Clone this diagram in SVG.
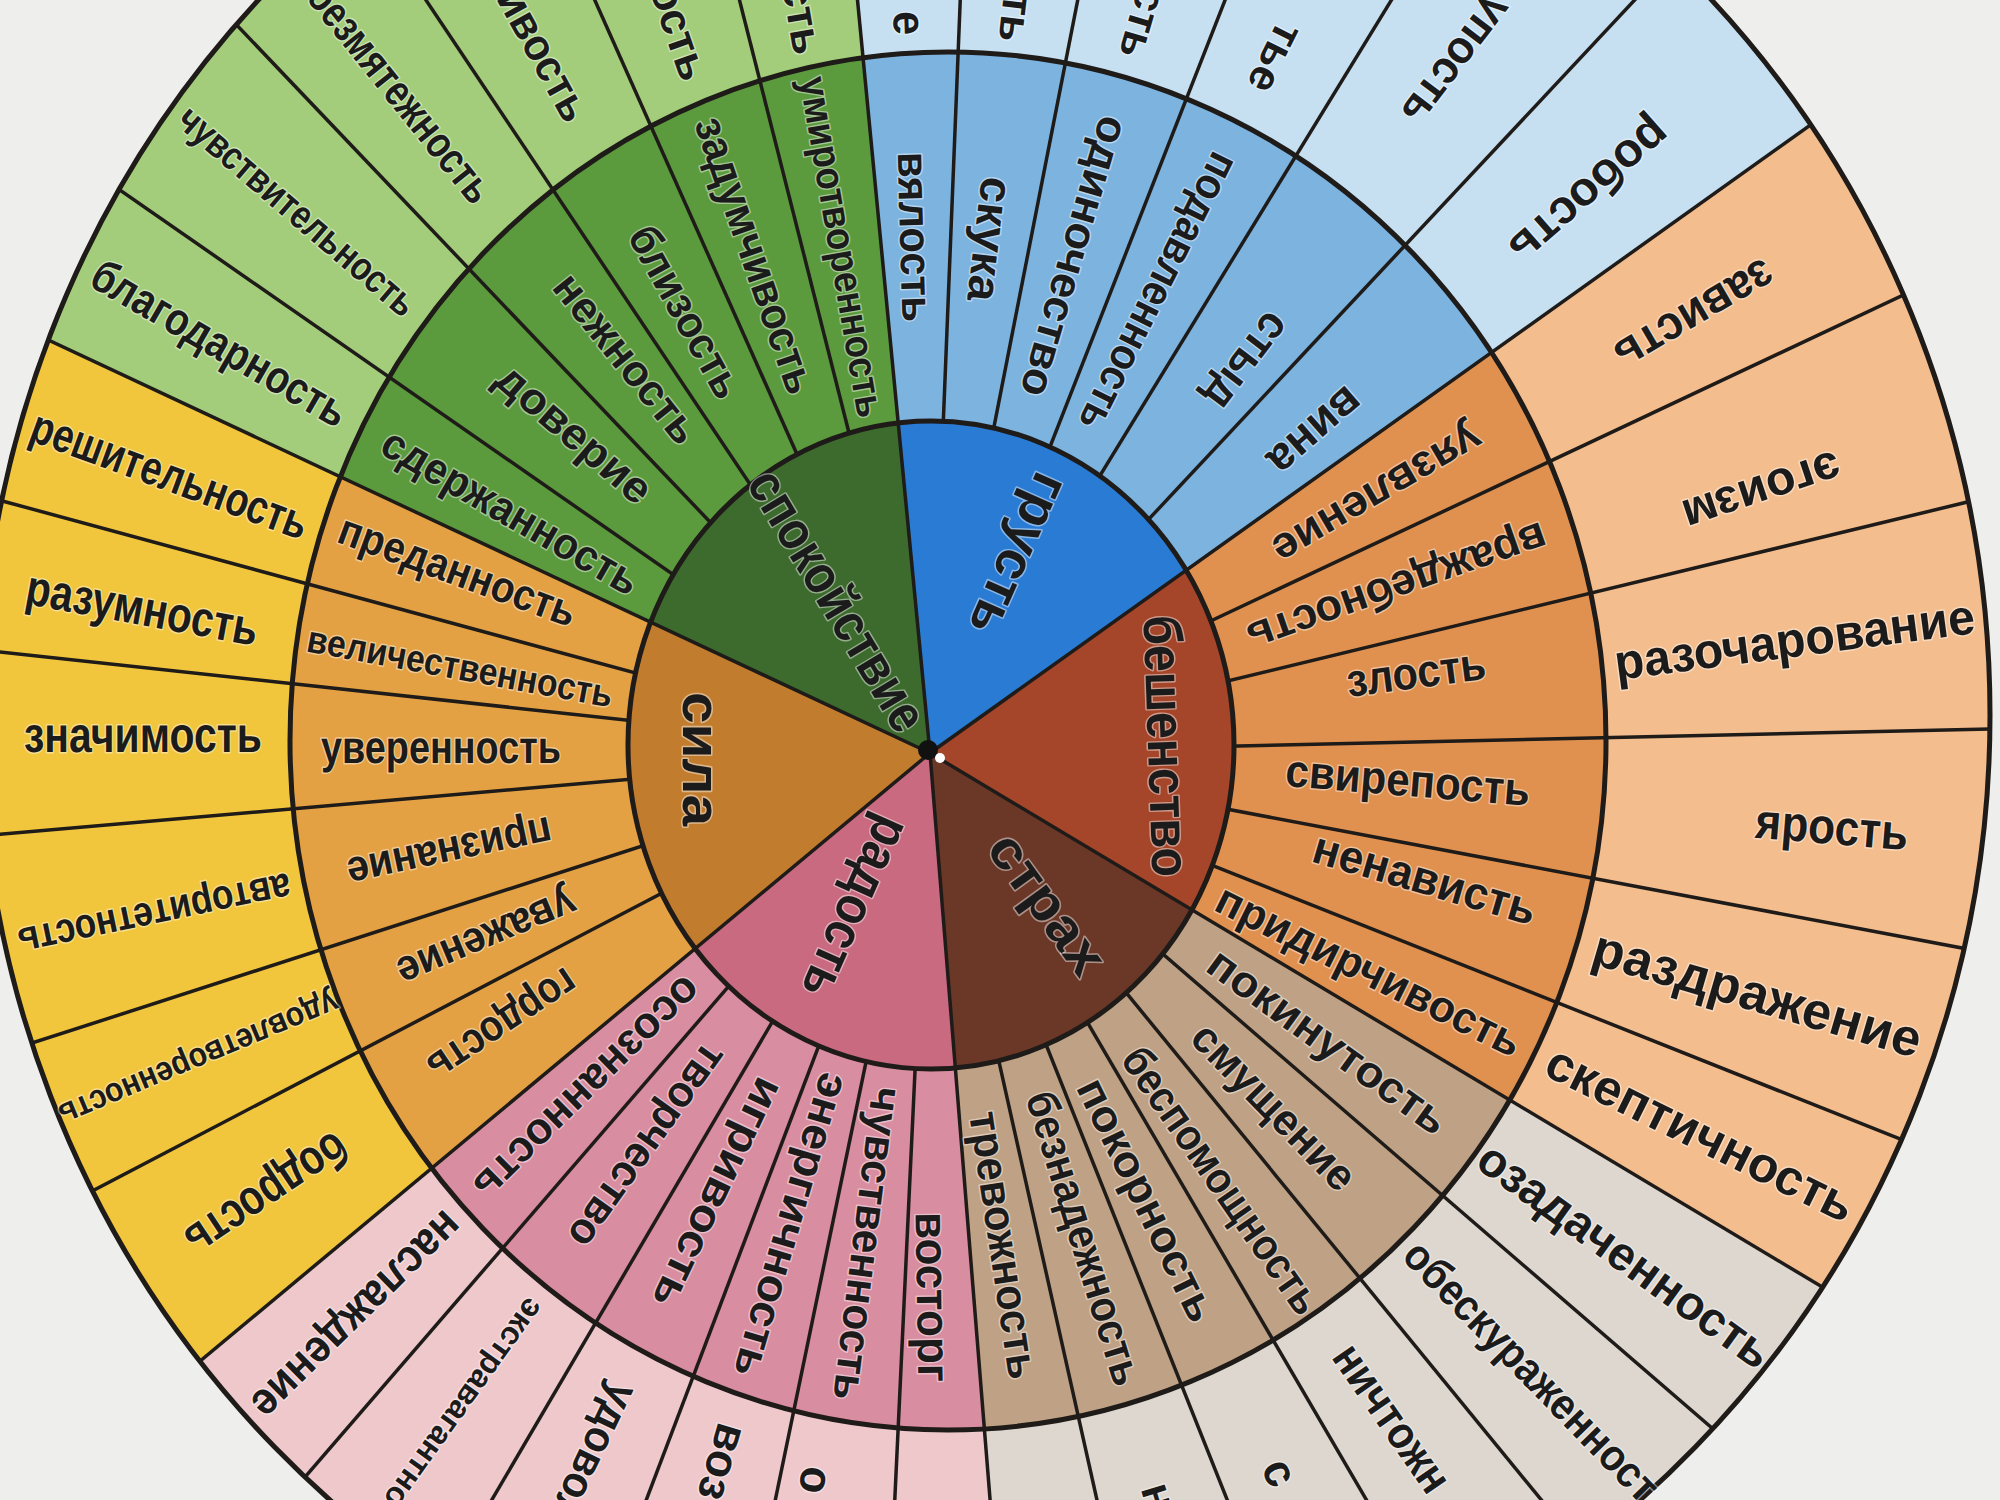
<svg xmlns="http://www.w3.org/2000/svg" width="2000" height="1500" viewBox="0 0 2000 1500">
<style>
.t{font-family:"Liberation Sans",Arial,sans-serif;font-weight:bold;fill:#1b1b1b;text-anchor:middle;dominant-baseline:central;stroke:#ffffff;stroke-opacity:.45;stroke-width:3px;paint-order:stroke;stroke-linejoin:round}
.s{text-anchor:start}
.e{text-anchor:end}
.ln{stroke:#1e1b19;stroke-width:3.5}
.ring{fill:none;stroke:#1e1b19;stroke-width:5}
</style>
<defs>
<clipPath id="cE3"><ellipse cx="985" cy="715" rx="1005" ry="1035"/></clipPath>
<clipPath id="cE2"><ellipse cx="948" cy="741" rx="658" ry="689"/></clipPath>
<clipPath id="cE1"><ellipse cx="931" cy="745" rx="303" ry="324"/></clipPath>
<clipPath id="cRing"><path clip-rule="evenodd" d="M-20 715A1005 1035 0 1 0 1990 715A1005 1035 0 1 0 -20 715Z M628 745A303 324 0 1 0 1234 745A303 324 0 1 0 628 745Z"/></clipPath>
</defs>
<rect width="2000" height="1500" fill="#eeeeec"/>

<g id="sector-spokoystvie">
<path clip-path="url(#cE3)" fill="#a3cd7a" d="M930 753L-881.2 -95.4L-222.8 -881.2L738.4 -1237.8Z"/>
<path clip-path="url(#cE2)" fill="#5c9a3e" d="M930 753L-881.2 -95.4L-222.8 -881.2L738.4 -1237.8Z"/>
<path clip-path="url(#cE1)" fill="#3d6b2e" d="M930 753L-881.2 -95.4L-222.8 -881.2L738.4 -1237.8Z"/>
</g>
<g id="sector-grust">
<path clip-path="url(#cE3)" fill="#c6e0f1" d="M930 753L738.4 -1237.8L1759.4 -1067L2558.2 -408.4Z"/>
<path clip-path="url(#cE2)" fill="#7db3df" d="M930 753L738.4 -1237.8L1759.4 -1067L2558.2 -408.4Z"/>
<path clip-path="url(#cE1)" fill="#2a7bd4" d="M930 753L738.4 -1237.8L1759.4 -1067L2558.2 -408.4Z"/>
</g>
<g id="sector-beshenstvo">
<path clip-path="url(#cE3)" fill="#f3bd8d" d="M930 753L2558.2 -408.4L2928.4 672.8L2646.2 1780Z"/>
<path clip-path="url(#cE2)" fill="#e0914f" d="M930 753L2558.2 -408.4L2928.4 672.8L2646.2 1780Z"/>
<path clip-path="url(#cE1)" fill="#a5462a" d="M930 753L2558.2 -408.4L2928.4 672.8L2646.2 1780Z"/>
</g>
<g id="sector-strah">
<path clip-path="url(#cE3)" fill="#ddd7cf" d="M930 753L2646.2 1780L1985.2 2452L1090.4 2746.6Z"/>
<path clip-path="url(#cE2)" fill="#bfa285" d="M930 753L2646.2 1780L1985.2 2452L1090.4 2746.6Z"/>
<path clip-path="url(#cE1)" fill="#6b3828" d="M930 753L2646.2 1780L1985.2 2452L1090.4 2746.6Z"/>
</g>
<g id="sector-radost">
<path clip-path="url(#cE3)" fill="#eec8cb" d="M930 753L1090.4 2746.6L155 2596.8L-606.6 2033.2Z"/>
<path clip-path="url(#cE2)" fill="#d88da0" d="M930 753L1090.4 2746.6L155 2596.8L-606.6 2033.2Z"/>
<path clip-path="url(#cE1)" fill="#c96a80" d="M930 753L1090.4 2746.6L155 2596.8L-606.6 2033.2Z"/>
</g>
<g id="sector-sila">
<path clip-path="url(#cE3)" fill="#f1c63c" d="M930 753L-606.6 2033.2L-1053.6 1008.8L-881.2 -95.4Z"/>
<path clip-path="url(#cE2)" fill="#e3a143" d="M930 753L-606.6 2033.2L-1053.6 1008.8L-881.2 -95.4Z"/>
<path clip-path="url(#cE1)" fill="#c27c2e" d="M930 753L-606.6 2033.2L-1053.6 1008.8L-881.2 -95.4Z"/>
</g>

<g id="connectors">
<g clip-path="url(#cRing)">
<line class="ln" x1="930" y1="753" x2="2130" y2="753" transform="rotate(214.8 930 753)"/>
<line class="ln" x1="930" y1="753" x2="2130" y2="753" transform="rotate(226.4 930 753)"/>
<line class="ln" x1="930" y1="753" x2="2130" y2="753" transform="rotate(236.2 930 753)"/>
<line class="ln" x1="930" y1="753" x2="2130" y2="753" transform="rotate(246 930 753)"/>
<line class="ln" x1="930" y1="753" x2="2130" y2="753" transform="rotate(255.8 930 753)"/>
<line class="ln" x1="930" y1="753" x2="2130" y2="753" transform="rotate(272.3 930 753)"/>
<line class="ln" x1="930" y1="753" x2="2130" y2="753" transform="rotate(281.1 930 753)"/>
<line class="ln" x1="930" y1="753" x2="2130" y2="753" transform="rotate(291.4 930 753)"/>
<line class="ln" x1="930" y1="753" x2="2130" y2="753" transform="rotate(301.5 930 753)"/>
<line class="ln" x1="930" y1="753" x2="2130" y2="753" transform="rotate(313.1 930 753)"/>
<line class="ln" x1="930" y1="753" x2="2130" y2="753" transform="rotate(-25.2 930 753)"/>
<line class="ln" x1="930" y1="753" x2="2130" y2="753" transform="rotate(-13.6 930 753)"/>
<line class="ln" x1="930" y1="753" x2="2130" y2="753" transform="rotate(-1.3 930 753)"/>
<line class="ln" x1="930" y1="753" x2="2130" y2="753" transform="rotate(10.7 930 753)"/>
<line class="ln" x1="930" y1="753" x2="2130" y2="753" transform="rotate(21.7 930 753)"/>
<line class="ln" x1="930" y1="753" x2="2130" y2="753" transform="rotate(40.8 930 753)"/>
<line class="ln" x1="930" y1="753" x2="2130" y2="753" transform="rotate(50.7 930 753)"/>
<line class="ln" x1="930" y1="753" x2="2130" y2="753" transform="rotate(59.7 930 753)"/>
<line class="ln" x1="930" y1="753" x2="2130" y2="753" transform="rotate(68.3 930 753)"/>
<line class="ln" x1="930" y1="753" x2="2130" y2="753" transform="rotate(77.4 930 753)"/>
<line class="ln" x1="930" y1="753" x2="2130" y2="753" transform="rotate(92.7 930 753)"/>
<line class="ln" x1="930" y1="753" x2="2130" y2="753" transform="rotate(101.7 930 753)"/>
<line class="ln" x1="930" y1="753" x2="2130" y2="753" transform="rotate(110.8 930 753)"/>
<line class="ln" x1="930" y1="753" x2="2130" y2="753" transform="rotate(120.4 930 753)"/>
<line class="ln" x1="930" y1="753" x2="2130" y2="753" transform="rotate(130.8 930 753)"/>
<line class="ln" x1="930" y1="753" x2="2130" y2="753" transform="rotate(152.4 930 753)"/>
<line class="ln" x1="930" y1="753" x2="2130" y2="753" transform="rotate(162.1 930 753)"/>
<line class="ln" x1="930" y1="753" x2="2130" y2="753" transform="rotate(175 930 753)"/>
<line class="ln" x1="930" y1="753" x2="2130" y2="753" transform="rotate(186.2 930 753)"/>
<line class="ln" x1="930" y1="753" x2="2130" y2="753" transform="rotate(195.2 930 753)"/>
</g>
<g clip-path="url(#cE3)">
<line class="ln" x1="930" y1="753" x2="2130" y2="753" transform="rotate(264.5 930 753)"/>
<line class="ln" x1="930" y1="753" x2="2130" y2="753" transform="rotate(-35.5 930 753)"/>
<line class="ln" x1="930" y1="753" x2="2130" y2="753" transform="rotate(30.9 930 753)"/>
<line class="ln" x1="930" y1="753" x2="2130" y2="753" transform="rotate(85.4 930 753)"/>
<line class="ln" x1="930" y1="753" x2="2130" y2="753" transform="rotate(140.2 930 753)"/>
<line class="ln" x1="930" y1="753" x2="2130" y2="753" transform="rotate(205.1 930 753)"/>
</g>
<ellipse class="ring" cx="931" cy="745" rx="303" ry="324" stroke-width="4"/>
<ellipse class="ring" cx="948" cy="741" rx="658" ry="689"/>
<ellipse class="ring" cx="985" cy="715" rx="1005" ry="1035"/>
<circle cx="928" cy="750" r="10" fill="#111"/>
<circle cx="940" cy="758" r="5" fill="#fff"/>
</g>

<g id="labels-core">
<text class="t" x="838" y="600" font-size="54" textLength="295" lengthAdjust="spacingAndGlyphs" transform="rotate(59 838 600)">спокойствие</text>
<text class="t" x="1020" y="555" font-size="54" textLength="172" lengthAdjust="spacingAndGlyphs" transform="rotate(114 1020 555)">грусть</text>
<text class="t" x="1167" y="746" font-size="54" textLength="262" lengthAdjust="spacingAndGlyphs" transform="rotate(88 1167 746)">бешенство</text>
<text class="t" x="1048" y="903" font-size="54" textLength="161" lengthAdjust="spacingAndGlyphs" transform="rotate(54 1048 903)">страх</text>
<text class="t" x="857" y="908" font-size="54" textLength="194" lengthAdjust="spacingAndGlyphs" transform="rotate(114 857 908)">радость</text>
<text class="t" x="702" y="759" font-size="54" textLength="134" lengthAdjust="spacingAndGlyphs" transform="rotate(90 702 759)">сила</text>
</g>

<g id="labels-spokoystvie">
<text class="t" x="511" y="511" font-size="44" textLength="290" lengthAdjust="spacingAndGlyphs" transform="rotate(30 511 511)">сдержанность</text>
<text class="t" x="575" y="433" font-size="44" textLength="190" lengthAdjust="spacingAndGlyphs" transform="rotate(40.6 575 433)">доверие</text>
<text class="t" x="627" y="358" font-size="44" textLength="205" lengthAdjust="spacingAndGlyphs" transform="rotate(51.3 627 358)">нежность</text>
<text class="t" x="686.3" y="311.5" font-size="44" textLength="190" lengthAdjust="spacingAndGlyphs" transform="rotate(61.1 686.3 311.5)">близость</text>
<text class="t" x="756" y="255" font-size="44" textLength="290" lengthAdjust="spacingAndGlyphs" transform="rotate(70.9 756 255)">задумчивость</text>
<text class="t" x="842.6" y="246.7" font-size="40" textLength="345" lengthAdjust="spacingAndGlyphs" transform="rotate(80.2 842.6 246.7)">умиротворенность</text>
<text class="t" x="219.9" y="343" font-size="46" textLength="288" lengthAdjust="spacingAndGlyphs" transform="rotate(30 219.9 343)">благодарность</text>
<text class="t" x="297.8" y="210.7" font-size="40" textLength="300" lengthAdjust="spacingAndGlyphs" transform="rotate(40.6 297.8 210.7)">чувствительность</text>
<text class="t" x="400.8" y="92.5" font-size="44" textLength="268" lengthAdjust="spacingAndGlyphs" transform="rotate(51.3 400.8 92.5)">безмятежность</text>
<text class="t e" x="579.3" y="117.7" font-size="44" textLength="145" lengthAdjust="spacingAndGlyphs" transform="rotate(61.1 579.3 117.7)">ивость</text>
<text class="t e" x="696.5" y="78.3" font-size="44" textLength="100" lengthAdjust="spacingAndGlyphs" transform="rotate(70.9 696.5 78.3)">ость</text>
<text class="t e" x="809.3" y="53.6" font-size="44" textLength="72" lengthAdjust="spacingAndGlyphs" transform="rotate(80.2 809.3 53.6)">сть</text>
</g>

<g id="labels-grust">
<text class="t" x="915.5" y="236.7" font-size="44" textLength="170" lengthAdjust="spacingAndGlyphs" transform="rotate(88.4 915.5 236.7)">вялость</text>
<text class="t" x="990.5" y="239.4" font-size="46" textLength="125" lengthAdjust="spacingAndGlyphs" transform="rotate(96.7 990.5 239.4)">скука</text>
<text class="t" x="1075.2" y="256.9" font-size="44" textLength="290" lengthAdjust="spacingAndGlyphs" transform="rotate(106.3 1075.2 256.9)">одиночество</text>
<text class="t" x="1159.5" y="292.5" font-size="44" textLength="305" lengthAdjust="spacingAndGlyphs" transform="rotate(116.5 1159.5 292.5)">подавленность</text>
<text class="t" x="1248" y="362" font-size="46" textLength="110" lengthAdjust="spacingAndGlyphs" transform="rotate(127.3 1248 362)">стыд</text>
<text class="t" x="1316" y="432" font-size="46" textLength="110" lengthAdjust="spacingAndGlyphs" transform="rotate(138.8 1316 432)">вина</text>
<text class="t e" x="909.9" y="35" font-size="46" textLength="24" lengthAdjust="spacingAndGlyphs" transform="rotate(88.4 909.9 35)">е</text>
<text class="t e" x="1013.8" y="42" font-size="44" textLength="72" lengthAdjust="spacingAndGlyphs" transform="rotate(96.7 1013.8 42)">сть</text>
<text class="t e" x="1133.4" y="58" font-size="44" textLength="72" lengthAdjust="spacingAndGlyphs" transform="rotate(106.3 1133.4 58)">сть</text>
<text class="t e" x="1260" y="90.7" font-size="44" textLength="72" lengthAdjust="spacingAndGlyphs" transform="rotate(116.5 1260 90.7)">тье</text>
<text class="t e" x="1411.8" y="121" font-size="46" textLength="150" lengthAdjust="spacingAndGlyphs" transform="rotate(127.3 1411.8 121)">упость</text>
<text class="t" x="1590" y="192" font-size="48" textLength="196" lengthAdjust="spacingAndGlyphs" transform="rotate(138.8 1590 192)">робость</text>
</g>

<g id="labels-beshenstvo">
<text class="t" x="1378" y="495" font-size="44" textLength="235" lengthAdjust="spacingAndGlyphs" transform="rotate(149.65 1378 495)">уязвление</text>
<text class="t" x="1397.4" y="588.4" font-size="44" textLength="315" lengthAdjust="spacingAndGlyphs" transform="rotate(160.6 1397.4 588.4)">враждебность</text>
<text class="t" x="1416" y="672" font-size="46" textLength="140" lengthAdjust="spacingAndGlyphs" transform="rotate(-7.45 1416 672)">злость</text>
<text class="t" x="1408" y="780" font-size="46" textLength="245" lengthAdjust="spacingAndGlyphs" transform="rotate(4.7 1408 780)">свирепость</text>
<text class="t" x="1425" y="878" font-size="46" textLength="230" lengthAdjust="spacingAndGlyphs" transform="rotate(16.2 1425 878)">ненависть</text>
<text class="t" x="1369.3" y="969.9" font-size="44" textLength="335" lengthAdjust="spacingAndGlyphs" transform="rotate(26.3 1369.3 969.9)">придирчивость</text>
<text class="t" x="1695" y="316" font-size="48" textLength="177" lengthAdjust="spacingAndGlyphs" transform="rotate(149.65 1695 316)">зависть</text>
<text class="t" x="1762" y="492" font-size="48" textLength="164" lengthAdjust="spacingAndGlyphs" transform="rotate(161.5 1762 492)">эгоизм</text>
<text class="t" x="1794.5" y="639.7" font-size="50" textLength="363" lengthAdjust="spacingAndGlyphs" transform="rotate(-7.45 1794.5 639.7)">разочарование</text>
<text class="t" x="1832" y="827" font-size="50" textLength="153" lengthAdjust="spacingAndGlyphs" transform="rotate(4.7 1832 827)">ярость</text>
<text class="t" x="1757.5" y="993.5" font-size="52" textLength="340" lengthAdjust="spacingAndGlyphs" transform="rotate(16.2 1757.5 993.5)">раздражение</text>
<text class="t" x="1700.7" y="1133.6" font-size="50" textLength="338" lengthAdjust="spacingAndGlyphs" transform="rotate(26.3 1700.7 1133.6)">скептичность</text>
</g>

<g id="labels-strah">
<text class="t" x="1328.4" y="1040.9" font-size="44" textLength="285" lengthAdjust="spacingAndGlyphs" transform="rotate(35.85 1328.4 1040.9)">покинутость</text>
<text class="t" x="1274.4" y="1106.3" font-size="44" textLength="215" lengthAdjust="spacingAndGlyphs" transform="rotate(45.75 1274.4 1106.3)">смущение</text>
<text class="t" x="1222" y="1180" font-size="44" textLength="315" lengthAdjust="spacingAndGlyphs" transform="rotate(55.2 1222 1180)">беспомощность</text>
<text class="t" x="1147.6" y="1199.5" font-size="44" textLength="265" lengthAdjust="spacingAndGlyphs" transform="rotate(64 1147.6 1199.5)">покорность</text>
<text class="t" x="1085" y="1238" font-size="44" textLength="305" lengthAdjust="spacingAndGlyphs" transform="rotate(72.85 1085 1238)">безнадежность</text>
<text class="t" x="1004.6" y="1245" font-size="44" textLength="270" lengthAdjust="spacingAndGlyphs" transform="rotate(81.4 1004.6 1245)">тревожность</text>
<text class="t" x="1625" y="1255.1" font-size="48" textLength="350" lengthAdjust="spacingAndGlyphs" transform="rotate(35.85 1625 1255.1)">озадаченность</text>
<text class="t s" x="1411.6" y="1247" font-size="44" textLength="345" lengthAdjust="spacingAndGlyphs" transform="rotate(45.75 1411.6 1247)">обескураженност</text>
<text class="t s" x="1344" y="1348" font-size="46" textLength="170" lengthAdjust="spacingAndGlyphs" transform="rotate(55.2 1344 1348)">ничтожн</text>
<text class="t s" x="1275" y="1461" font-size="46" textLength="25" lengthAdjust="spacingAndGlyphs" transform="rotate(64 1275 1461)">с</text>
<text class="t s" x="1155.7" y="1484" font-size="46" textLength="26" lengthAdjust="spacingAndGlyphs" transform="rotate(72.85 1155.7 1484)">н</text>
</g>

<g id="labels-radost">
<text class="t" x="933" y="1297" font-size="46" textLength="170" lengthAdjust="spacingAndGlyphs" transform="rotate(89.05 933 1297)">восторг</text>
<text class="t" x="868.1" y="1244" font-size="44" textLength="315" lengthAdjust="spacingAndGlyphs" transform="rotate(97.2 868.1 1244)">чувственность</text>
<text class="t" x="792.2" y="1225.6" font-size="44" textLength="315" lengthAdjust="spacingAndGlyphs" transform="rotate(106.25 792.2 1225.6)">энергичность</text>
<text class="t" x="718.9" y="1193.7" font-size="44" textLength="250" lengthAdjust="spacingAndGlyphs" transform="rotate(115.6 718.9 1193.7)">игривость</text>
<text class="t" x="648.3" y="1146.5" font-size="44" textLength="240" lengthAdjust="spacingAndGlyphs" transform="rotate(125.6 648.3 1146.5)">творчество</text>
<text class="t" x="588.1" y="1089.1" font-size="44" textLength="300" lengthAdjust="spacingAndGlyphs" transform="rotate(135.5 588.1 1089.1)">осознанность</text>
<text class="t s" x="818" y="1467" font-size="46" textLength="27" lengthAdjust="spacingAndGlyphs" transform="rotate(97.2 818 1467)">о</text>
<text class="t s" x="734" y="1425" font-size="46" textLength="78" lengthAdjust="spacingAndGlyphs" transform="rotate(106.25 734 1425)">воз</text>
<text class="t s" x="626.7" y="1386.2" font-size="44" textLength="150" lengthAdjust="spacingAndGlyphs" transform="rotate(115.6 626.7 1386.2)">удовол</text>
<text class="t s" x="537" y="1302" font-size="32" textLength="250" lengthAdjust="spacingAndGlyphs" transform="rotate(125.6 537 1302)">экстравагантно</text>
<text class="t" x="357.5" y="1315.9" font-size="46" textLength="275" lengthAdjust="spacingAndGlyphs" transform="rotate(135.5 357.5 1315.9)">наслаждение</text>
</g>

<g id="labels-sila">
<text class="t" x="503" y="1026" font-size="44" textLength="170" lengthAdjust="spacingAndGlyphs" transform="rotate(146.3 503 1026)">гордость</text>
<text class="t" x="487.4" y="938.8" font-size="44" textLength="190" lengthAdjust="spacingAndGlyphs" transform="rotate(157.25 487.4 938.8)">уважение</text>
<text class="t" x="450" y="853" font-size="44" textLength="208" lengthAdjust="spacingAndGlyphs" transform="rotate(168.15 450 853)">признание</text>
<text class="t" x="441" y="747" font-size="46" textLength="240" lengthAdjust="spacingAndGlyphs" transform="rotate(-0.05 441 747)">уверенность</text>
<text class="t" x="460.1" y="666.5" font-size="38" textLength="310" lengthAdjust="spacingAndGlyphs" transform="rotate(10.45 460.1 666.5)">величественность</text>
<text class="t" x="458" y="570" font-size="44" textLength="250" lengthAdjust="spacingAndGlyphs" transform="rotate(20.15 458 570)">преданность</text>
<text class="t" x="267.2" y="1195.1" font-size="50" textLength="185" lengthAdjust="spacingAndGlyphs" transform="rotate(146.3 267.2 1195.1)">бодрость</text>
<text class="t" x="199" y="1059.8" font-size="34" textLength="300" lengthAdjust="spacingAndGlyphs" transform="rotate(157.25 199 1059.8)">удовлетворенность</text>
<text class="t" x="154.6" y="915.4" font-size="42" textLength="278" lengthAdjust="spacingAndGlyphs" transform="rotate(168.15 154.6 915.4)">авторитетность</text>
<text class="t" x="143" y="735" font-size="50" textLength="238" lengthAdjust="spacingAndGlyphs" transform="rotate(-0.05 143 735)">значимость</text>
<text class="t" x="142.4" y="608" font-size="50" textLength="235" lengthAdjust="spacingAndGlyphs" transform="rotate(10.45 142.4 608)">разумность</text>
<text class="t" x="169.9" y="474.5" font-size="48" textLength="292" lengthAdjust="spacingAndGlyphs" transform="rotate(20.15 169.9 474.5)">решительность</text>
</g>
</svg>
